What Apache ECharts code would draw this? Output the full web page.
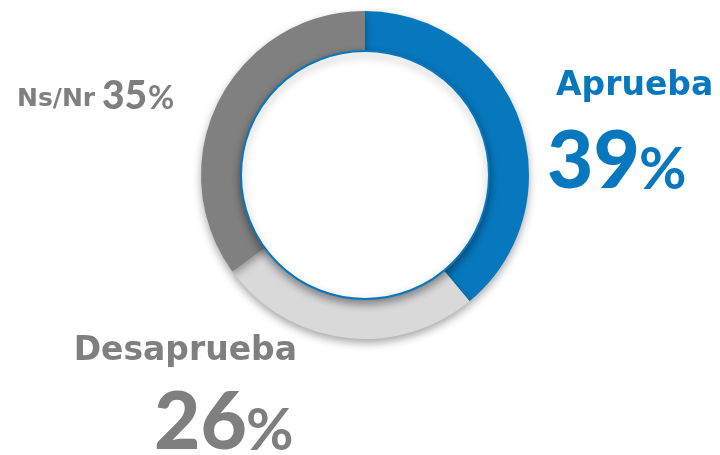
<!DOCTYPE html>
<html>
<head>
<meta charset="utf-8">
<script src="https://cdn.jsdelivr.net/npm/echarts@6/dist/echarts.min.js"></script>
<style>
  html, body { margin: 0; padding: 0; background: #fff; }
  #chart { width: 720px; height: 455px; }
</style>
</head>
<body>
<div id="chart"></div>
<script>
// datos
var categories = ["Aprueba", "Desaprueba", "Ns/Nr"];
var values = [39, 26, 35];
var colors = ["#0878be", "#d9d9d9", "#808080"];
var textColors = ["#0878be", "#7f7f7f", "#7f7f7f"];

var chart = echarts.init(document.getElementById("chart"));

var wordFont = "DejaVu Sans";
var numFont = "Lato";

// etiquetas (posiciones a mano)
function labels() {
  return [
    // Aprueba
    { type: "text", style: { x: 556, y: 86, text: categories[0], font: "bold 33px '" + wordFont + "'", fill: textColors[0], textVerticalAlign: "middle" } },
    { type: "text", style: { x: 547, y: 162, text: String(values[0]), font: "900 80px " + numFont, fill: textColors[0], textVerticalAlign: "middle" } },
    { type: "text", style: { x: 639, y: 170, text: "%", font: "bold 58px " + numFont, fill: textColors[0], textVerticalAlign: "middle" } },
    // Desaprueba
    { type: "text", style: { x: 297, y: 351, text: categories[1], font: "bold 33px '" + wordFont + "'", fill: textColors[1], textAlign: "right", textVerticalAlign: "middle" } },
    { type: "text", style: { x: 154, y: 423, text: String(values[1]), font: "900 80px " + numFont, fill: textColors[1], textVerticalAlign: "middle" } },
    { type: "text", style: { x: 246, y: 431, text: "%", font: "bold 58px " + numFont, fill: textColors[1], textVerticalAlign: "middle" } },
    // Ns/Nr
    { type: "text", style: { x: 17, y: 99, text: categories[2], font: "bold 25px '" + wordFont + "'", fill: textColors[2], textVerticalAlign: "middle" } },
    { type: "text", style: { x: 102, y: 96, text: String(values[2]), font: "900 39px " + numFont, fill: textColors[2], textVerticalAlign: "middle" } },
    { type: "text", style: { x: 148, y: 99, text: "%", font: "bold 32px " + numFont, fill: textColors[2], textVerticalAlign: "middle" } }
  ];
}

chart.setOption({
  animation: false,
  backgroundColor: "#fff",
  series: [
    {
      type: "pie",
      center: [365, 175],
      radius: [116, 164],
      startAngle: 90,
      silent: true,
      label: { show: false },
      labelLine: { show: false },
      itemStyle: {
        shadowBlur: 8,
        shadowOffsetY: 4,
        shadowColor: "rgba(0,0,0,0.35)"
      },
      data: categories.map(function(name, i) {
        return { name: name, value: values[i], itemStyle: { color: colors[i] } };
      })
    },
    {
      // circulo blanco del centro
      type: "pie",
      center: [365, 175],
      radius: [0, 124],
      silent: true,
      z: 3,
      label: { show: false },
      labelLine: { show: false },
      itemStyle: {
        color: "#fff",
        borderColor: "#0878be",
        borderWidth: 2,
        shadowBlur: 8,
        shadowOffsetY: 4,
        shadowColor: "rgba(0,0,0,0.4)"
      },
      data: [{ name: "", value: 1 }]
    }
  ],
  graphic: labels()
});
</script>
</body>
</html>
